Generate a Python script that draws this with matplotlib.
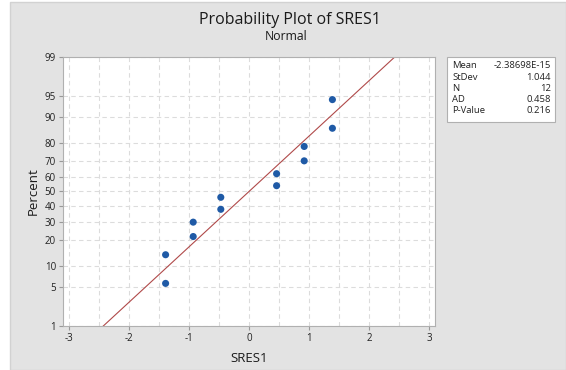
import math
import numpy as np
import matplotlib
matplotlib.use("Agg")
import matplotlib.pyplot as plt
from matplotlib.patches import Rectangle

# ---- data ----
sres = [-1.39, -1.39, -0.93, -0.93, -0.47, -0.47, 0.46, 0.46, 0.92, 0.92, 1.39, 1.39]
percent = [5.6, 13.7, 21.8, 29.8, 37.9, 46.0, 54.0, 62.1, 70.2, 78.2, 86.3, 94.4]
fit_mean = -2.38698e-15
fit_sd = 1.044
pct_ticks = [1, 5, 10, 20, 30, 40, 50, 60, 70, 80, 90, 95, 99]
x_ticks = [-3, -2, -1, 0, 1, 2, 3]
stats_labels = ["Mean", "StDev", "N", "AD", "P-Value"]
stats_values = ["-2.38698E-15", "1.044", "12", "0.458", "0.216"]


def norm_ppf(p):
    lo, hi = -10.0, 10.0
    for _ in range(100):
        mid = (lo + hi) / 2
        if 0.5 * (1 + math.erf(mid / math.sqrt(2))) < p:
            lo = mid
        else:
            hi = mid
    return (lo + hi) / 2


plt.rcParams['font.family'] = ['Open Sans', 'DejaVu Sans']

W, H = 566, 370
fig = plt.figure(figsize=(W / 100, H / 100), dpi=100)
fig.patch.set_facecolor('white')

# background axes
bg = fig.add_axes([0, 0, 1, 1], zorder=-10)
bg.set_xlim(0, W)
bg.set_ylim(H, 0)
bg.axis('off')
bg.add_patch(Rectangle((10, 2), W - 10, H - 2, facecolor='#e3e3e3', edgecolor='#d2d2d2', linewidth=1))
# stats box
bx0, bx1, by0, by1 = 447, 555, 57, 122
bg.add_patch(Rectangle((bx0, by0), bx1 - bx0, by1 - by0, facecolor='white',
                       edgecolor='#b0b0b0', linewidth=0.8))
for i, (lab, val) in enumerate(zip(stats_labels, stats_values)):
    yy = 66 + i * 11.2
    bg.text(452, yy, lab, ha='left', va='center', fontsize=6.8, color='#222222')
    bg.text(551, yy, val, ha='right', va='center', fontsize=6.8, color='#222222')
bg.text(290, 20, 'Probability Plot of SRES1', ha='center', va='center', fontsize=11.5,
        color='#1a1a1a')
bg.text(286, 36, 'Normal', ha='center', va='center', fontsize=8.8, color='#1a1a1a')

# axes: left 63, right 435, top 57, bottom 326 (pixels)
ax = fig.add_axes([63 / W, 1 - 326 / H, (435 - 63) / W, (326 - 57) / H], zorder=1)
ax.set_facecolor('white')

zmin, zmax = norm_ppf(0.01), norm_ppf(0.99)
ax.set_xlim(-3.1, 3.1)
ax.set_ylim(zmin, zmax)

for gx in np.arange(-3, 3.01, 0.5):
    ax.axvline(gx, color='#dcdcdc', lw=0.8, ls=(0, (4, 3)), zorder=1)
for p in pct_ticks:
    ax.axhline(norm_ppf(p / 100), color='#dcdcdc', lw=0.8, ls=(0, (4, 3)), zorder=1)

xl = np.array([-3.1, 3.1])
ax.plot(xl, (xl - fit_mean) / fit_sd, color='#b04a4a', lw=0.8, zorder=2)

zs = [norm_ppf(p / 100) for p in percent]
ax.scatter(sres, zs, s=26, marker='o', color='#1f5aa6', edgecolors='none', zorder=3)

ax.set_xticks(x_ticks)
ax.set_xticklabels([str(t) for t in x_ticks])
ax.set_yticks([norm_ppf(p / 100) for p in pct_ticks])
ax.set_yticklabels([str(p) for p in pct_ticks])
ax.tick_params(axis='both', labelsize=7, length=3, color='#999999', labelcolor='#222222', pad=2)
for s in ax.spines.values():
    s.set_color('#b0b0b0')
    s.set_linewidth(0.8)

ax.set_xlabel('SRES1', fontsize=9.5, labelpad=6, color='#1a1a1a')
ax.set_ylabel('Percent', fontsize=9.5, labelpad=4, color='#1a1a1a')

fig.savefig('out.png', dpi=100, facecolor=fig.get_facecolor())
